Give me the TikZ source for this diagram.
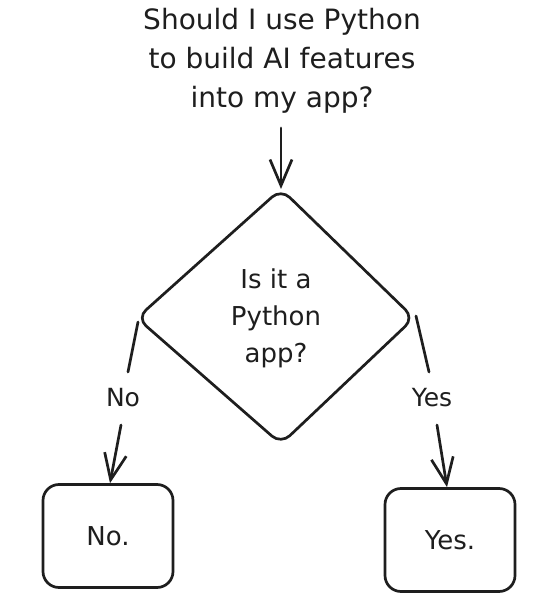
\documentclass[tikz,border=0pt]{standalone}
\usepackage{fontspec}
\setmainfont{DejaVu Sans}
\usetikzlibrary{arrows.meta}
\definecolor{ink}{HTML}{1E1E1E}
\tikzset{
  stroke/.style={draw=ink, line width=2.7pt, line cap=round, line join=round},
  arr/.style={stroke, -{Straight Barb[length=26pt,width=22pt,line width=2.7pt]}},
  big/.style={font=\fontsize{28}{39}\selectfont, text=ink, align=center},
  mid/.style={font=\fontsize{26}{37}\selectfont, text=ink, align=center},
  lab/.style={font=\fontsize{25}{28}\selectfont, text=ink, inner sep=2pt},
  endbox/.style={stroke, rounded corners=16pt, minimum width=130pt, minimum height=103pt, font=\fontsize{26}{30}\selectfont, text=ink}
}
\begin{document}
\begin{tikzpicture}[x=1pt,y=-1pt]
\useasboundingbox[fill=white] (0,0) rectangle (556,612);
% title
\node[big] (title) at (282,61) {Should I use Python\\to build AI features\\into my app?};
% diamond corners
\coordinate (dt) at (281,189);
\coordinate (dl) at (137,318);
\coordinate (dr) at (414,318);
\coordinate (db) at (281,444);
\draw[stroke, rounded corners=12pt] (dt) -- (dr) -- (db) -- (dl) -- cycle;
\node[mid] (q) at (276,318) {Is it a\\Python\\app?};
% arrow into diamond
\coordinate (ts) at (281,128);
\draw[arr] (ts) -- (dt);
% boxes
\node[endbox] (no) at (108,536) {No.};
\node[endbox] (yes) at (450,540) {Yes.};
% labels
\node[lab] (lno) at (123,398) {No};
\node[lab] (lyes) at (432,398) {Yes};
% branch lines
\coordinate (ls) at (138,322);
\coordinate (le) at (128,372);
\coordinate (la) at (121,425);
\coordinate (rs) at (416,316);
\coordinate (re) at (429,372);
\coordinate (ra) at (437,425);
\draw[stroke] (ls) -- (le);
\draw[arr] (la) -- ([xshift=2pt]no.north);
\draw[stroke] (rs) -- (re);
\draw[arr] (ra) -- ([xshift=-3pt]yes.north);
\end{tikzpicture}
\end{document}
